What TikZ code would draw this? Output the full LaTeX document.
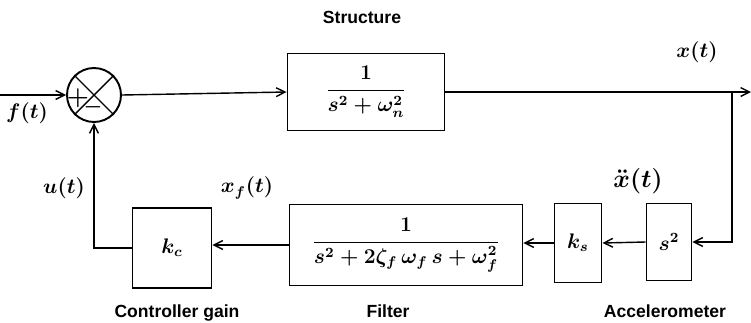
\documentclass[tikz,border=0pt]{standalone}
\usepackage{amsmath,amssymb}
\usepackage{fontspec}
\setsansfont{Liberation Sans}
\usepackage{tikz}
\usetikzlibrary{positioning,arrows.meta,calc}
\tikzset{
  blk/.style={
    rectangle,
    draw,
    line width=1.1pt,
    inner sep=1pt,
    font=\large\boldmath
  },
  sumnode/.style={
    circle,
    draw,
    line width=1.1pt,
    minimum size=1.08cm,
    inner sep=0pt
  },
  sig/.style={
    font=\large\boldmath,
    inner sep=1pt
  },
  blkcaption/.style={
    font=\normalsize\sffamily\bfseries,
    inner sep=1pt
  },
  arrow/.style={
    -{Straight Barb[length=5pt,width=5pt]},
    line width=0.8pt
  },
  wire/.style={
    line width=0.8pt
  }
}
\begin{document}
\begin{tikzpicture}[x=0.02cm,y=-0.02cm]
  \useasboundingbox (0,0) rectangle (751,322);

  % Summing junction
  \node[sumnode] (sum) at (94,95) {};
  \draw[wire] (sum.north west) -- (sum.south east);
  \draw[wire] (sum.north east) -- (sum.south west);
  \node[font=\Large\boldmath, inner sep=0pt] (plus) at (78,98) {$+$};
  \node[font=\large\boldmath, inner sep=0pt] (minus) at (93,107) {$-$};

  % Forward path
  \node[blk, minimum width=3.14cm, minimum height=1.54cm] (plant) at (366,92)
    {$\dfrac{1}{s^2+\omega_n^2}$};
  \node[blkcaption] (plantcap) at (362,17) {Structure};

  % Feedback blocks
  \node[blk, minimum width=0.9cm, minimum height=1.54cm] (acc) at (669,242) {$s^2$};
  \node[blk, minimum width=0.94cm, minimum height=1.58cm] (ks) at (578,243) {$k_s$};
  \node[blk, minimum width=4.66cm, minimum height=1.62cm] (filt) at (406,245)
    {$\dfrac{1}{s^2+2\zeta_f\,\omega_f\,s+\omega_f^2}$};
  \node[blk, minimum width=1.58cm, minimum height=1.6cm] (kc) at (172,248) {$k_c$};

  \node[blkcaption] (acccap) at (665,311) {Accelerometer};
  \node[blkcaption] (filtcap) at (388,311) {Filter};
  \node[blkcaption] (kccap) at (177,313) {Controller gain};

  % Signal labels
  \node[sig] (fl) at (27,113) {$f(t)$};
  \node[sig] (xl) at (697,52) {$x(t)$};
  \node[sig, font=\Large\boldmath] (xddl) at (638,181) {$\ddot{x}(t)$};
  \node[sig] (xfl) at (247,188) {$x_f(t)$};
  \node[sig] (ul) at (64,188) {$u(t)$};

  % Connections
  \coordinate (in) at (0,95);
  \coordinate (out) at (751,92);
  \coordinate (tap) at (732,92);
  \coordinate (tapdown) at (732,242);
  \coordinate (fbcorner) at (94,248);

  \draw[arrow] (in) -- (sum.west);
  \draw[arrow] (sum.east) -- (plant.west);
  \draw[arrow] (plant.east) -- (out);
  \draw[arrow] (tap) -- (tapdown) -- (acc.east);
  \draw[arrow] (acc.west) -- (ks.east);
  \draw[arrow] (ks.west) -- (ks.west -| filt.east);
  \draw[arrow] (filt.west) -- (filt.west -| kc.east);
  \draw[arrow] (kc.west) -- (fbcorner) -- (sum.south);

\end{tikzpicture}
\end{document}
